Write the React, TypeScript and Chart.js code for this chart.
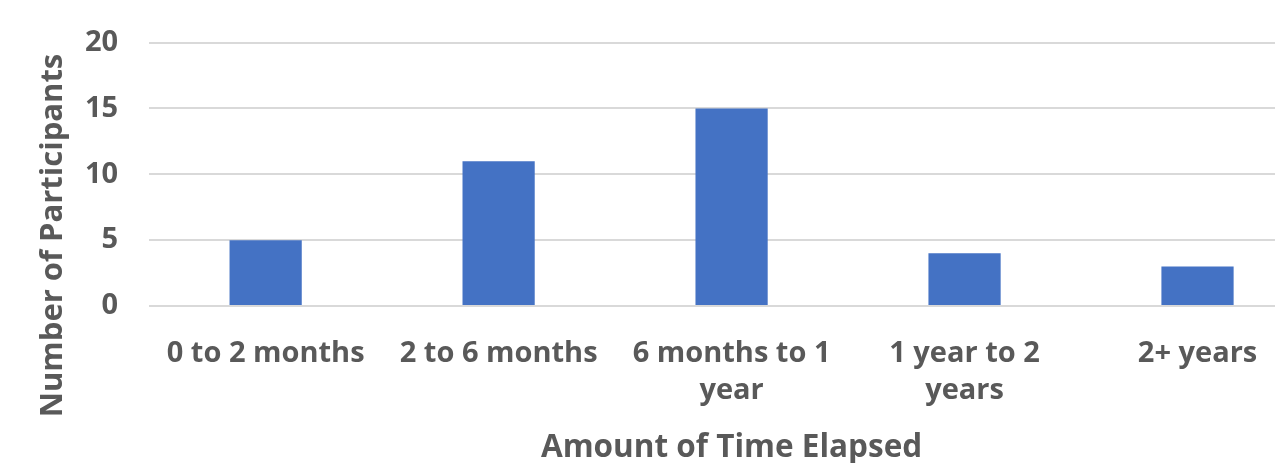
import React, { useEffect, useRef } from "react";
import { Chart, registerables } from "chart.js";

Chart.register(...registerables);

const categories: (string | string[])[] = [
  "0 to 2 months",
  "2 to 6 months",
  ["6 months to 1", "year"],
  ["1 year to 2", "years"],
  "2+ years",
];
const participants: number[] = [5, 11, 15, 4, 3];
const yTicks: number[] = [0, 5, 10, 15, 20];
const xTitle = "Amount of Time Elapsed";
const yTitle = "Number of Participants";

const TEXT = "#595959";
const FONT = "'Open Sans', Lato, sans-serif";

const yTitlePlugin = {
  id: "yTitleCentered",
  afterDraw(chart: any) {
    const ctx = chart.ctx;
    ctx.save();
    ctx.fillStyle = TEXT;
    ctx.font = `bold 31px ${FONT}`;
    ctx.textAlign = "center";
    ctx.textBaseline = "alphabetic";
    ctx.translate(62, 235.5);
    ctx.rotate(-Math.PI / 2);
    ctx.fillText(yTitle, 0, 0);
    ctx.restore();
  },
};

export default function App() {
  const ref = useRef<HTMLCanvasElement | null>(null);
  useEffect(() => {
    document.body.style.margin = "0";
    document.body.style.overflow = "hidden";
    const chart = new Chart(ref.current!, {
      type: "bar",
      data: {
        labels: categories,
        datasets: [
          {
            data: participants,
            backgroundColor: "#4472c4",
            categoryPercentage: 1,
            barPercentage: 0.31,
          },
        ],
      },
      plugins: [yTitlePlugin],
      options: {
        animation: false,
        responsive: true,
        maintainAspectRatio: false,
        layout: { padding: { left: 54, right: 6, top: 37, bottom: 0 } },
        plugins: { legend: { display: false }, tooltip: { enabled: false } },
        scales: {
          x: {
            grid: { display: false, drawTicks: false },
            border: { display: false },
            ticks: {
              color: TEXT,
              font: { family: FONT, size: 29, weight: "bold", lineHeight: 1.276 },
              padding: 29.5,
              maxRotation: 0,
              autoSkip: false,
            },
            title: {
              display: true,
              text: xTitle,
              color: TEXT,
              font: { family: FONT, size: 31.5, weight: "bold", lineHeight: 0.8 },
              padding: { top: -3.6, bottom: 2.4 },
            },
          },
          y: {
            min: 0,
            max: 20,
            afterBuildTicks: (axis: any) => {
              axis.ticks = yTicks.map((v) => ({ value: v }));
            },
            grid: { color: "#d9d9d9", lineWidth: 2, drawTicks: false },
            border: { display: false },
            ticks: {
              color: TEXT,
              font: { family: FONT, size: 29, weight: "bold", lineHeight: 0.8 },
              padding: 31,
            },
          },
        },
      },
    });
    return () => chart.destroy();
  }, []);
  return (
    <div
      style={{
        position: "fixed",
        left: 0,
        top: 0,
        width: 1275,
        height: 463,
        overflow: "hidden",
        background: "#fff",
      }}
    >
      <div style={{ position: "absolute", left: 0, top: 0, width: 1320, height: 463 }}>
        <canvas ref={ref} />
      </div>
    </div>
  );
}
